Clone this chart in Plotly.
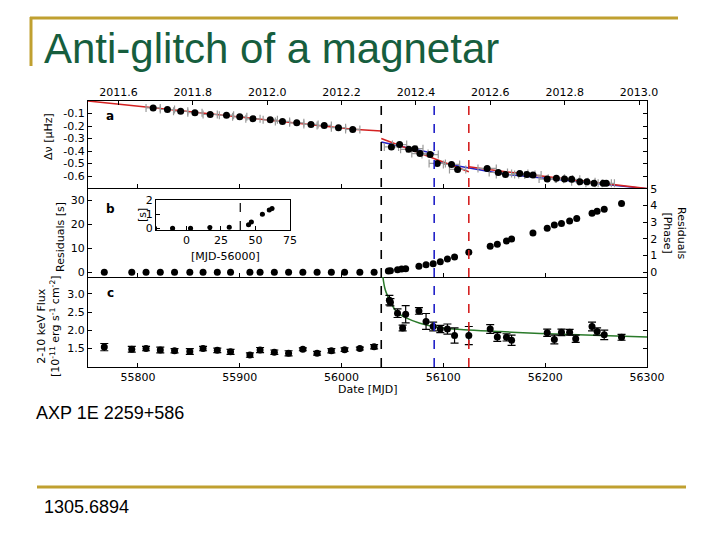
import plotly.graph_objects as go

W, H = 720, 540
def px(x):
    return x / W
def py(y):
    return 1 - y / H

# ---------------- data ----------------
PERIOD_S = 6.979  # spin period of 1E 2259+586 (s), converts phase <-> seconds
MJD_RANGE = [55751, 56300]
GLITCH_MJD = 56039
BLUE_EVENT_MJD = 56091
RED_EVENT_MJD = 56125

# panel a: frequency offsets (micro Hz)
freq_mjd = [55815, 55829, 55842, 55856, 55871, 55887, 55900, 55913, 55930, 55942,
            55956, 55970, 55983, 55997, 56011,
            56049, 56057, 56066, 56072, 56077, 56087, 56094, 56108, 56114, 56143,
            56154, 56161, 56175, 56182, 56188, 56202, 56211, 56219, 56226, 56234,
            56241, 56248, 56257, 56260]
freq_val = [-0.055, -0.068, -0.082, -0.094, -0.108, -0.113, -0.126, -0.142, -0.150, -0.163,
            -0.174, -0.187, -0.195, -0.213, -0.227,
            -0.367, -0.348, -0.386, -0.381, -0.420, -0.428, -0.499, -0.507, -0.547, -0.539,
            -0.571, -0.587, -0.579, -0.587, -0.592, -0.624, -0.618, -0.624, -0.626, -0.645,
            -0.645, -0.658, -0.658, -0.658]
freq_err_days = [7, 7, 7, 7, 7, 7, 7, 7, 7, 7, 7, 7, 7, 7, 7,
                 7, 7, 8, 8, 8, 8, 8, 8, 8, 9,
                 9, 9, 8, 8, 8, 8, 8, 8, 8, 8,
                 8, 8, 8, 8]

# model lines in panel a
red_pre_mjd = [55751, 55815, 56011, 56039]
red_pre_val = [0.0, -0.053, -0.225, -0.240]
red_mid_mjd = [56039, 56125]
red_mid_val = [-0.300, -0.565]
red_post_mjd = [56125, 56146, 56300]
red_post_val = [-0.525, -0.550, -0.700]
blue_mid_mjd = [56039, 56091]
blue_mid_val = [-0.328, -0.420]
blue_post_mjd = [56091, 56160, 56300]
blue_post_val = [-0.486, -0.585, -0.700]

# panel b: timing residuals (phase)
resid_mjd = [55767, 55794, 55808, 55822, 55836, 55851, 55864, 55878, 55891, 55910,
             55920, 55934, 55948, 55962, 55976, 55990, 56003, 56018, 56032,
             56046, 56048, 56055, 56059, 56063, 56076, 56083, 56090, 56097, 56104,
             56111, 56125, 56146, 56153, 56162, 56167, 56188, 56202, 56209, 56216,
             56224, 56231, 56246, 56251, 56258, 56275]
resid_phase = [0.0, 0.0, 0.0, 0.0, 0.0, 0.0, 0.0, 0.0, 0.0, 0.0,
               0.0, 0.0, 0.0, 0.0, 0.0, 0.0, 0.0, 0.0, 0.0,
               0.08, 0.10, 0.16, 0.20, 0.22, 0.36, 0.46, 0.52, 0.64, 0.80,
               0.92, 1.20, 1.56, 1.68, 1.88, 2.00, 2.36, 2.64, 2.84, 2.92,
               3.08, 3.22, 3.54, 3.66, 3.78, 4.12]

# inset: residuals in seconds vs MJD-56000
inset_day = [-23, -10, 3, 17, 31, 45, 47, 55, 60, 62]
inset_sec = [0.0, 0.0, 0.0, 0.05, 0.07, 0.25, 0.45, 1.0, 1.3, 1.4]
inset_err = [0.06, 0.06, 0.06, 0.08, 0.08, 0.06, 0.06, 0.06, 0.06, 0.06]

# panel c: 2-10 keV flux
flux_mjd = [55767, 55794, 55808, 55822, 55836, 55851, 55864, 55878, 55891, 55910,
            55920, 55934, 55948, 55962, 55976, 55990, 56003, 56018, 56032,
            56047, 56048, 56055, 56060, 56063, 56076, 56083, 56090, 56097, 56104,
            56111, 56125, 56146, 56153, 56162, 56167, 56202, 56209, 56216, 56224,
            56230, 56246, 56251, 56258, 56275]
flux_val = [1.53, 1.47, 1.49, 1.45, 1.43, 1.41, 1.49, 1.44, 1.40, 1.31,
            1.45, 1.39, 1.36, 1.47, 1.36, 1.43, 1.46, 1.49, 1.54,
            2.83, 2.77, 2.47, 2.06, 2.44, 2.53, 2.24, 2.10, 2.03, 2.03,
            1.85, 1.85, 2.03, 1.81, 1.80, 1.72, 1.93, 1.74, 1.94, 1.94,
            1.76, 2.10, 1.96, 1.87, 1.80]
flux_err = [0.10, 0.08, 0.06, 0.08, 0.06, 0.08, 0.06, 0.06, 0.07, 0.06,
            0.07, 0.06, 0.07, 0.04, 0.05, 0.06, 0.05, 0.04, 0.06,
            0.13, 0.10, 0.12, 0.08, 0.24, 0.09, 0.22, 0.12, 0.10, 0.14,
            0.21, 0.25, 0.12, 0.12, 0.10, 0.14, 0.10, 0.12, 0.09, 0.08,
            0.10, 0.12, 0.10, 0.13, 0.08]

# green flux-decay model
model_mjd = [56040.5, 56043, 56048, 56054, 56064, 56077, 56094, 56120, 56156, 56195, 56300]
model_flux = [3.50, 3.11, 2.79, 2.51, 2.33, 2.19, 2.08, 2.01, 1.96, 1.91, 1.81]

year_ticks = [2011.6, 2011.8, 2012.0, 2012.2, 2012.4, 2012.6, 2012.8, 2013.0]
mjd_ticks = [55800, 55900, 56000, 56100, 56200, 56300]
freq_ticks = [-0.6, -0.5, -0.4, -0.3, -0.2, -0.1]
sec_ticks = [0, 10, 20, 30]
phase_ticks = [0, 1, 2, 3, 4, 5]
flux_ticks = [1.5, 2.0, 2.5, 3.0]
inset_xticks = [0, 25, 50, 75]
inset_yticks = [0, 1, 2]


def mjd_to_year(m):
    return 2012.0 + (m - 55927.0) / 365.25


# ---------------- figure ----------------
RED = "#d42222"
BLUE = "#2222c8"
GREEN = "#2a7a2a"
GRAY = "#9a9a9a"
GOLD = "#c0a030"
TFONT = dict(family="DejaVu Sans", size=11, color="black")

fig = go.Figure()

# panel a
for mx, my in [(blue_mid_mjd, blue_mid_val), (blue_post_mjd, blue_post_val)]:
    fig.add_trace(go.Scatter(x=mx, y=my, mode="lines", line=dict(color=BLUE, width=1.5),
                             xaxis="x", yaxis="y", showlegend=False, hoverinfo="skip"))
for mx, my in [(red_pre_mjd, red_pre_val), (red_mid_mjd, red_mid_val), (red_post_mjd, red_post_val)]:
    fig.add_trace(go.Scatter(x=mx, y=my, mode="lines", line=dict(color=RED, width=1.5),
                             xaxis="x", yaxis="y", showlegend=False, hoverinfo="skip"))
fig.add_trace(go.Scatter(x=freq_mjd, y=freq_val, mode="markers",
                         marker=dict(color="black", size=7),
                         error_x=dict(type="data", array=freq_err_days, color=GRAY, thickness=1.2, width=4),
                         xaxis="x", yaxis="y", showlegend=False))
# top year axis holder
fig.add_trace(go.Scatter(x=[], y=[], xaxis="x4", yaxis="y", showlegend=False))

# panel b
fig.add_trace(go.Scatter(x=resid_mjd, y=resid_phase, mode="markers",
                         marker=dict(color="black", size=7),
                         xaxis="x2", yaxis="y2", showlegend=False))
fig.add_trace(go.Scatter(x=[], y=[], xaxis="x2", yaxis="y4", showlegend=False))

# inset
fig.add_trace(go.Scatter(x=inset_day, y=inset_sec, mode="markers",
                         marker=dict(color="black", size=5),
                         error_y=dict(type="data", array=inset_err, color="black", thickness=1, width=2),
                         error_x=dict(type="constant", value=1.5, color="black", thickness=1, width=0),
                         xaxis="x5", yaxis="y5", showlegend=False))

# panel c
fig.add_trace(go.Scatter(x=model_mjd, y=model_flux, mode="lines",
                         line=dict(color=GREEN, width=1.5, shape="spline"),
                         xaxis="x3", yaxis="y3", showlegend=False, hoverinfo="skip"))
fig.add_trace(go.Scatter(x=flux_mjd, y=flux_val, mode="markers",
                         marker=dict(color="black", size=7),
                         error_y=dict(type="data", array=flux_err, color="black", thickness=1.2, width=4),
                         xaxis="x3", yaxis="y3", showlegend=False))

XD = [px(88), px(647)]
DA = [py(188), py(101)]
DB = [py(277), py(188)]
DC = [py(367), py(277)]

common = dict(showline=True, linecolor="black", linewidth=1, ticks="inside", ticklen=4,
              tickcolor="black", showgrid=False, zeroline=False, tickfont=TFONT,
              automargin=False)

yr_range = [mjd_to_year(MJD_RANGE[0]), mjd_to_year(MJD_RANGE[1])]
sec_range = [-0.28 * PERIOD_S, 5.05 * PERIOD_S]

fig.update_layout(
    template="none",
    width=W, height=H, autosize=False,
    margin=dict(l=0, r=0, t=0, b=0, pad=0, autoexpand=False),
    paper_bgcolor="white", plot_bgcolor="white", showlegend=False,
    xaxis=dict(domain=XD, anchor="y", range=MJD_RANGE, tickvals=mjd_ticks,
               showticklabels=False, mirror=False, **common),
    xaxis2=dict(domain=XD, anchor="y2", range=MJD_RANGE, tickvals=mjd_ticks,
                showticklabels=False, mirror=False, **common),
    xaxis3=dict(domain=XD, anchor="y3", range=MJD_RANGE, tickvals=mjd_ticks,
                ticktext=[str(v) for v in mjd_ticks], mirror=False, **common),
    xaxis4=dict(overlaying="x", side="top", anchor="y", range=yr_range, tickvals=year_ticks,
                ticktext=["%.1f" % v for v in year_ticks], mirror=False, **common),
    yaxis=dict(domain=DA, anchor="x", range=[-0.695, 0.0], tickvals=freq_ticks,
               ticktext=["-%.1f" % abs(v) for v in freq_ticks], mirror="ticks", **common),
    yaxis2=dict(domain=DB, anchor="x2", side="right", range=[-0.28, 5.05], tickvals=phase_ticks,
                ticktext=[str(v) for v in phase_ticks], mirror=False, **common),
    yaxis4=dict(overlaying="y2", anchor="x2", side="left", range=sec_range, tickvals=sec_ticks,
                ticktext=[str(v) for v in sec_ticks], mirror=False, **common),
    yaxis3=dict(domain=DC, anchor="x3", range=[0.98, 3.47], tickvals=flux_ticks,
                ticktext=["%.1f" % v for v in flux_ticks], mirror="ticks", **common),
    xaxis5=dict(domain=[px(156), px(290)], anchor="y5", range=[-22, 75], tickvals=inset_xticks,
                ticktext=[str(v) for v in inset_xticks], mirror=True, **common),
    yaxis5=dict(domain=[py(230), py(200)], anchor="x5", range=[-0.12, 2.0], tickvals=inset_yticks,
                ticktext=[str(v) for v in inset_yticks], mirror=True, **common),
)

# event lines spanning all panels
for m, c in [(GLITCH_MJD, "black"), (BLUE_EVENT_MJD, BLUE), (RED_EVENT_MJD, RED)]:
    fig.add_shape(type="line", xref="x", yref="paper", x0=m, x1=m, y0=py(367), y1=py(101),
                  line=dict(color=c, width=1.6, dash="dash"))
fig.add_shape(type="line", xref="x5", yref="y5 domain", x0=GLITCH_MJD - 56000, x1=GLITCH_MJD - 56000,
              y0=0, y1=1, line=dict(color="black", width=1.2, dash="dash"))

# slide decorations
fig.add_shape(type="line", xref="paper", yref="paper", x0=px(30), x1=px(678), y0=py(18), y1=py(18),
              line=dict(color=GOLD, width=3))
fig.add_shape(type="line", xref="paper", yref="paper", x0=px(31), x1=px(31), y0=py(17), y1=py(66),
              line=dict(color=GOLD, width=3))
fig.add_shape(type="line", xref="paper", yref="paper", x0=px(37), x1=px(686), y0=py(487), y1=py(487),
              line=dict(color=GOLD, width=3))


def ann(text, x, y, size=11, angle=0, xanchor="center", yanchor="middle", color="black",
        family="DejaVu Sans", bold=False):
    if bold:
        text = "<b>" + text + "</b>"
    fig.add_annotation(text=text, x=px(x), y=py(y), xref="paper", yref="paper", showarrow=False,
                       textangle=angle, xanchor=xanchor, yanchor=yanchor,
                       font=dict(size=size, color=color, family=family))


ann("Anti-glitch of a magnetar", 42, 48, size=42, xanchor="left", color="#165e3e",
    family="Liberation Sans")
ann("AXP 1E 2259+586", 34, 413, size=18, xanchor="left", family="Liberation Sans")
ann("1305.6894", 42, 507, size=18, xanchor="left", family="Liberation Sans")

ann("Δν [μHz]", 48, 137, size=11, angle=-90)
ann("Residuals [s]", 60, 237, size=11, angle=-90)
ann("2-10 keV Flux<br>[10<sup>-11</sup> erg s<sup>-1</sup> cm<sup>-2</sup>]", 48, 326, size=11, angle=-90)
ann("Residuals<br>[Phase]", 675, 233, size=11, angle=90)
ann("Date [MJD]", 368, 389, size=11)
ann("[s]", 142, 215, size=11, angle=-90)
ann("[MJD-56000]", 225, 257, size=11)
ann("a", 110, 116, size=12, bold=True)
ann("b", 110, 209, size=12, bold=True)
ann("c", 110, 293, size=12, bold=True)

fig.write_html(
    "out.html",
    config={"displayModeBar": False, "responsive": False},
    post_script=("document.documentElement.style.overflow='hidden';"
                 "document.body.style.overflow='hidden';"
                 "document.body.style.margin='0';"),
)
